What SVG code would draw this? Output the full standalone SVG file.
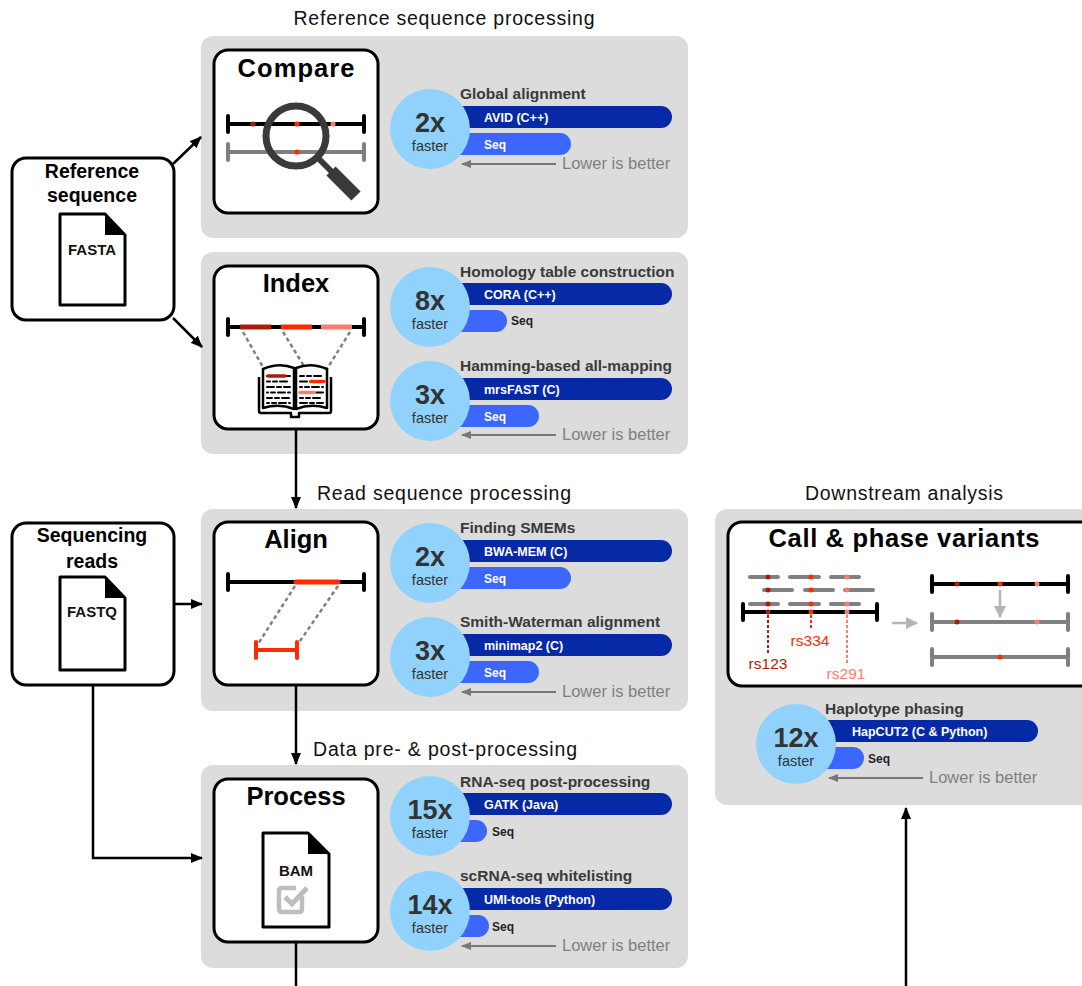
<svg xmlns="http://www.w3.org/2000/svg" width="1082" height="986" viewBox="0 0 1082 986">
  <defs>
    <style>
      text{font-family:"Liberation Sans",Arial,Helvetica,sans-serif}
      .panel{fill:#dcdcdc}
      .node{fill:#fff;stroke:#000;stroke-width:3}
      .sec{font-size:19.5px;fill:#111;text-anchor:middle}
      .ttl{font-size:25.5px;font-weight:bold;fill:#000;text-anchor:middle}
      .src{font-size:19.5px;font-weight:bold;fill:#000;text-anchor:middle}
      .doc{fill:#fff;stroke:#000;stroke-width:3;stroke-linejoin:round}
      .fold{fill:#000}
      .doclbl{font-size:15px;font-weight:bold;fill:#111;text-anchor:middle}
      .circ{fill:#90d2fb}
      .fac{font-size:27px;font-weight:bold;fill:#333;text-anchor:middle}
      .fst{font-size:14.5px;fill:#333;text-anchor:middle}
      .btl{font-size:15.5px;font-weight:bold;fill:#3a3a3a}
      .tool{fill:#0629a6}
      .seq{fill:#3d66fc}
      .blbl{font-size:12.5px;font-weight:bold;fill:#fff}
      .slbl{font-size:12px;font-weight:bold;fill:#fff}
      .olbl{font-size:12px;font-weight:bold;fill:#222}
      .low{font-size:16.5px;fill:#808080}
      .lowarr{stroke:#777;stroke-width:2;marker-end:url(#ag)}
      .conn{fill:none;stroke:#000;stroke-width:2.5}
      .blk{stroke:#000;stroke-width:4;stroke-linecap:round}
      .gry{stroke:#808080;stroke-width:4;stroke-linecap:round}
      .dash{stroke:#808080;stroke-width:2.5;stroke-dasharray:4 3;fill:none}
      .rd1{fill:#b01a0a}
      .rd2{fill:#ff2a00}
      .rd3{fill:#ff7a70}
      .bline{stroke:#000;stroke-width:2;stroke-linecap:round;stroke-dasharray:7 3 4 3}
    </style>
    <marker id="ah" viewBox="0 0 12 10" refX="11" refY="5" markerWidth="12" markerHeight="10" markerUnits="userSpaceOnUse" orient="auto">
      <path d="M0,0 L12,5 L0,10 Z" fill="#000"/>
    </marker>
    <marker id="ag" viewBox="0 0 10 8" refX="9" refY="4" markerWidth="10" markerHeight="8" markerUnits="userSpaceOnUse" orient="auto">
      <path d="M0,0 L10,4 L0,8 Z" fill="#777"/>
    </marker>
    <marker id="al" viewBox="0 0 12 12" refX="11" refY="6" markerWidth="12" markerHeight="12" markerUnits="userSpaceOnUse" orient="auto">
      <path d="M0,0 L12,6 L0,12 Z" fill="#b5b5b5"/>
    </marker>
  </defs>

  <!-- section backgrounds -->
  <g id="panels">
    <rect class="panel" x="201" y="36" width="487" height="202" rx="12"/>
    <rect class="panel" x="201" y="252" width="487" height="202" rx="12"/>
    <rect class="panel" x="201" y="509" width="487" height="202" rx="12"/>
    <rect class="panel" x="201" y="765" width="487" height="203" rx="12"/>
    <rect class="panel" x="715" y="509" width="380" height="296" rx="12"/>
  </g>

  <!-- section headings -->
  <g id="headings">
    <text class="sec" x="444" y="25" textLength="301" lengthAdjust="spacing">Reference sequence processing</text>
    <text class="sec" x="444" y="500" textLength="254" lengthAdjust="spacing">Read sequence processing</text>
    <text class="sec" x="445" y="756" textLength="264" lengthAdjust="spacing">Data pre- &amp; post-processing</text>
    <text class="sec" x="904" y="500" textLength="198" lengthAdjust="spacing">Downstream analysis</text>
  </g>

  <!-- connectors -->
  <g id="connectors">
    <line class="conn" x1="173" y1="164" x2="201" y2="137" marker-end="url(#ah)"/>
    <line class="conn" x1="173" y1="318" x2="202" y2="347" marker-end="url(#ah)"/>
    <line class="conn" x1="175" y1="604" x2="202" y2="604" marker-end="url(#ah)"/>
    <path class="conn" d="M93,685 V858 H202" marker-end="url(#ah)"/>
    <path class="conn" d="M296,429 V508" marker-end="url(#ah)"/>
    <path class="conn" d="M296,685 V764" marker-end="url(#ah)"/>
    <path class="conn" d="M296,942 V986"/>
    <path class="conn" d="M906,986 V808" marker-end="url(#ah)"/>
  </g>

  <!-- input: reference sequence -->
  <g id="reference-sequence">
    <rect class="node" x="12" y="158" width="162" height="162" rx="14"/>
    <text class="src" x="92" y="178">Reference</text>
    <text class="src" x="92" y="202">sequence</text>
    <path class="doc" d="M60,214 H105 L125,235 V305 H60 Z"/>
    <path class="fold" d="M105,214 V235 H125 Z"/>
    <text class="doclbl" x="92" y="255">FASTA</text>
  </g>

  <!-- input: sequencing reads -->
  <g id="sequencing-reads">
    <rect class="node" x="12" y="523" width="162" height="162" rx="14"/>
    <text class="src" x="92" y="542">Sequencing</text>
    <text class="src" x="92" y="568">reads</text>
    <path class="doc" d="M60,577 H105 L125,598 V670 H60 Z"/>
    <path class="fold" d="M105,577 V598 H125 Z"/>
    <text class="doclbl" x="92" y="617">FASTQ</text>
  </g>

  <!-- Compare -->
  <g id="compare">
    <rect class="node" x="214" y="50" width="164" height="163" rx="14"/>
    <text class="ttl" x="296" y="77" textLength="117" lengthAdjust="spacing">Compare</text>
    <line class="blk" x1="228" y1="124" x2="364" y2="124"/>
    <line class="blk" x1="228" y1="116" x2="228" y2="132"/>
    <line class="blk" x1="364" y1="116" x2="364" y2="132"/>
    <line class="gry" x1="228" y1="152" x2="364" y2="152"/>
    <line class="gry" x1="228" y1="144" x2="228" y2="160"/>
    <line class="gry" x1="364" y1="144" x2="364" y2="160"/>
    <circle class="rd1" cx="253" cy="124" r="2.6"/>
    <circle class="rd2" cx="297" cy="124" r="2.6"/>
    <circle class="rd3" cx="333" cy="124" r="2.6"/>
    <circle class="rd2" cx="297" cy="152" r="2.6"/>
    <circle cx="296" cy="136" r="30" fill="none" stroke="#3a3a3a" stroke-width="7"/>
    <line x1="317" y1="157" x2="332" y2="172" stroke="#3a3a3a" stroke-width="6"/>
    <line x1="331" y1="171" x2="356" y2="196" stroke="#3a3a3a" stroke-width="13"/>
  </g>

  <g id="bench-global-alignment">
    <text class="btl" x="460" y="99">Global alignment</text>
    <rect class="tool" x="440" y="106" width="232" height="22" rx="11"/>
    <rect class="seq" x="440" y="133" width="131" height="22" rx="11"/>
    <circle class="circ" cx="430" cy="129" r="40"/>
    <text class="fac" x="430" y="132">2x</text>
    <text class="fst" x="430" y="151">faster</text>
    <text class="blbl" x="484" y="122">AVID (C++)</text>
    <text class="slbl" x="484" y="149">Seq</text>
    <line class="lowarr" x1="556" y1="164" x2="462" y2="164"/>
    <text class="low" x="562" y="169">Lower is better</text>
  </g>

  <!-- Index -->
  <g id="index">
    <rect class="node" x="214" y="266" width="164" height="163" rx="14"/>
    <text class="ttl" x="296" y="292">Index</text>
    <line class="blk" x1="228" y1="327" x2="364" y2="327"/>
    <line class="blk" x1="228" y1="319" x2="228" y2="335"/>
    <line class="blk" x1="364" y1="319" x2="364" y2="335"/>
    <line x1="240" y1="327" x2="271" y2="327" stroke="#b01a0a" stroke-width="5"/>
    <line x1="281" y1="327" x2="312" y2="327" stroke="#ff2a00" stroke-width="5"/>
    <line x1="321" y1="327" x2="352" y2="327" stroke="#ff7a70" stroke-width="5"/>
    <line class="dash" x1="243" y1="332" x2="264" y2="369"/>
    <line class="dash" x1="283" y1="332" x2="312" y2="379"/>
    <line class="dash" x1="350" y1="332" x2="315" y2="388"/>
    <!-- open book -->
    <path d="M259,377 V411 Q259,413 261,413 H291 V417 H299 V413 H329 Q331,413 331,411 V377" fill="#fff" stroke="#000" stroke-width="2.5" stroke-linejoin="round"/>
    <path d="M263,369 Q279,362 294,368 V409 Q279,403 263,408 Z" fill="#fff" stroke="#000" stroke-width="2.5" stroke-linejoin="round"/>
    <path d="M296,368 Q311,362 327,369 V408 Q311,403 296,409 Z" fill="#fff" stroke="#000" stroke-width="2.5" stroke-linejoin="round"/>
    <line class="bline" x1="267" y1="376" x2="290" y2="376"/>
    <line class="bline" x1="267" y1="381.5" x2="290" y2="381.5" stroke-dashoffset="4"/>
    <line class="bline" x1="267" y1="387" x2="290" y2="387"/>
    <line class="bline" x1="267" y1="392.5" x2="290" y2="392.5" stroke-dashoffset="6"/>
    <line class="bline" x1="267" y1="398" x2="290" y2="398" stroke-dashoffset="2"/>
    <line class="bline" x1="267" y1="403" x2="290" y2="403" stroke-dashoffset="5"/>
    <line class="bline" x1="300" y1="376" x2="323" y2="376" stroke-dashoffset="3"/>
    <line class="bline" x1="300" y1="381.5" x2="323" y2="381.5"/>
    <line class="bline" x1="300" y1="387" x2="323" y2="387" stroke-dashoffset="5"/>
    <line class="bline" x1="300" y1="392.5" x2="323" y2="392.5" stroke-dashoffset="1"/>
    <line class="bline" x1="300" y1="398" x2="323" y2="398" stroke-dashoffset="4"/>
    <line class="bline" x1="300" y1="403" x2="323" y2="403"/>
    <line x1="268" y1="376" x2="285" y2="376" stroke="#b01a0a" stroke-width="3.5" stroke-linecap="round"/>
    <line x1="311" y1="381.5" x2="324" y2="381.5" stroke="#ff2a00" stroke-width="3.5" stroke-linecap="round"/>
    <line x1="300" y1="392.5" x2="314" y2="392.5" stroke="#ff7a70" stroke-width="3.5" stroke-linecap="round"/>
  </g>

  <g id="bench-homology-table">
    <text class="btl" x="460" y="277">Homology table construction</text>
    <rect class="tool" x="440" y="283" width="232" height="22" rx="11"/>
    <rect class="seq" x="440" y="310" width="67" height="22" rx="11"/>
    <circle class="circ" cx="430" cy="307" r="40"/>
    <text class="fac" x="430" y="310">8x</text>
    <text class="fst" x="430" y="329">faster</text>
    <text class="blbl" x="484" y="299">CORA (C++)</text>
    <text class="olbl" x="511" y="325">Seq</text>
  </g>

  <g id="bench-hamming-mapping">
    <text class="btl" x="460" y="371">Hamming-based all-mapping</text>
    <rect class="tool" x="440" y="378" width="232" height="22" rx="11"/>
    <rect class="seq" x="440" y="405" width="99" height="22" rx="11"/>
    <circle class="circ" cx="430" cy="401" r="40"/>
    <text class="fac" x="430" y="404">3x</text>
    <text class="fst" x="430" y="423">faster</text>
    <text class="blbl" x="484" y="394">mrsFAST (C)</text>
    <text class="slbl" x="484" y="421">Seq</text>
    <line class="lowarr" x1="556" y1="435" x2="462" y2="435"/>
    <text class="low" x="562" y="440">Lower is better</text>
  </g>

  <!-- Align -->
  <g id="align">
    <rect class="node" x="214" y="522" width="164" height="163" rx="14"/>
    <text class="ttl" x="296" y="548">Align</text>
    <line class="blk" x1="228" y1="582" x2="364" y2="582"/>
    <line class="blk" x1="228" y1="574" x2="228" y2="590"/>
    <line class="blk" x1="364" y1="574" x2="364" y2="590"/>
    <line x1="296" y1="582" x2="338" y2="582" stroke="#ff2a00" stroke-width="5" stroke-linecap="round"/>
    <line class="dash" x1="295" y1="586" x2="258" y2="644"/>
    <line class="dash" x1="338" y1="586" x2="298" y2="644"/>
    <line x1="256" y1="650" x2="297" y2="650" stroke="#ff2a00" stroke-width="4"/>
    <line x1="256" y1="642" x2="256" y2="658" stroke="#ff2a00" stroke-width="4" stroke-linecap="round"/>
    <line x1="297" y1="642" x2="297" y2="658" stroke="#ff2a00" stroke-width="4" stroke-linecap="round"/>
  </g>

  <g id="bench-smems">
    <text class="btl" x="460" y="533">Finding SMEMs</text>
    <rect class="tool" x="440" y="540" width="232" height="22" rx="11"/>
    <rect class="seq" x="440" y="567" width="131" height="22" rx="11"/>
    <circle class="circ" cx="430" cy="563" r="40"/>
    <text class="fac" x="430" y="566">2x</text>
    <text class="fst" x="430" y="585">faster</text>
    <text class="blbl" x="484" y="556">BWA-MEM (C)</text>
    <text class="slbl" x="484" y="583">Seq</text>
  </g>

  <g id="bench-smith-waterman">
    <text class="btl" x="460" y="627">Smith-Waterman alignment</text>
    <rect class="tool" x="440" y="634" width="232" height="22" rx="11"/>
    <rect class="seq" x="440" y="661" width="99" height="22" rx="11"/>
    <circle class="circ" cx="430" cy="657" r="40"/>
    <text class="fac" x="430" y="660">3x</text>
    <text class="fst" x="430" y="679">faster</text>
    <text class="blbl" x="484" y="650">minimap2 (C)</text>
    <text class="slbl" x="484" y="677">Seq</text>
    <line class="lowarr" x1="556" y1="692" x2="462" y2="692"/>
    <text class="low" x="562" y="697">Lower is better</text>
  </g>

  <!-- Process -->
  <g id="process">
    <rect class="node" x="214" y="779" width="164" height="163" rx="14"/>
    <text class="ttl" x="296" y="805">Process</text>
    <path class="doc" d="M263,833 H308 L329,854 V927 H263 Z"/>
    <path class="fold" d="M308,833 V854 H329 Z"/>
    <text class="doclbl" x="296" y="876">BAM</text>
    <path d="M302,896 V909 Q302,912 299,912 H282 Q279,912 279,909 V891 Q279,888 282,888 H296" fill="none" stroke="#bdbdbd" stroke-width="4.5"/>
    <polyline points="285,897 292,904 307,888" fill="none" stroke="#bdbdbd" stroke-width="5"/>
  </g>

  <g id="bench-rnaseq">
    <text class="btl" x="460" y="787">RNA-seq post-processing</text>
    <rect class="tool" x="440" y="793" width="232" height="22" rx="11"/>
    <rect class="seq" x="440" y="820" width="47" height="22" rx="11"/>
    <circle class="circ" cx="430" cy="816" r="40"/>
    <text class="fac" x="430" y="819">15x</text>
    <text class="fst" x="430" y="838">faster</text>
    <text class="blbl" x="484" y="809">GATK (Java)</text>
    <text class="olbl" x="492" y="836">Seq</text>
  </g>

  <g id="bench-whitelisting">
    <text class="btl" x="460" y="881">scRNA-seq whitelisting</text>
    <rect class="tool" x="440" y="888" width="232" height="22" rx="11"/>
    <rect class="seq" x="440" y="915" width="49" height="22" rx="11"/>
    <circle class="circ" cx="430" cy="911" r="40"/>
    <text class="fac" x="430" y="914">14x</text>
    <text class="fst" x="430" y="933">faster</text>
    <text class="blbl" x="484" y="904">UMI-tools (Python)</text>
    <text class="olbl" x="492" y="931">Seq</text>
    <line class="lowarr" x1="556" y1="946" x2="462" y2="946"/>
    <text class="low" x="562" y="951">Lower is better</text>
  </g>

  <!-- Call & phase variants -->
  <g id="call-phase-variants">
    <rect class="node" x="728" y="522" width="370" height="164" rx="14"/>
    <text class="ttl" x="904" y="547" textLength="271" lengthAdjust="spacing">Call &amp; phase variants</text>
    <!-- reads -->
    <g class="gry" stroke-width="4">
      <line x1="750" y1="577" x2="778" y2="577"/>
      <line x1="790" y1="577" x2="819" y2="577"/>
      <line x1="831" y1="577" x2="859" y2="577"/>
      <line x1="764" y1="590" x2="792" y2="590"/>
      <line x1="805" y1="590" x2="833" y2="590"/>
      <line x1="845" y1="590" x2="873" y2="590"/>
      <line x1="750" y1="604" x2="778" y2="604"/>
      <line x1="790" y1="604" x2="819" y2="604"/>
      <line x1="831" y1="604" x2="859" y2="604"/>
    </g>
    <circle class="rd1" cx="768" cy="577" r="2.5"/>
    <circle class="rd1" cx="768" cy="590" r="2.5"/>
    <circle class="rd1" cx="768" cy="604" r="2.5"/>
    <circle class="rd2" cx="811" cy="577" r="2.5"/>
    <circle class="rd2" cx="811" cy="590" r="2.5"/>
    <circle class="rd2" cx="811" cy="604" r="2.5"/>
    <circle class="rd3" cx="847" cy="577" r="2.5"/>
    <circle class="rd3" cx="847" cy="590" r="2.5"/>
    <circle class="rd3" cx="847" cy="604" r="2.5"/>
    <!-- reference -->
    <line class="blk" x1="743" y1="612" x2="877" y2="612"/>
    <line class="blk" x1="743" y1="604" x2="743" y2="620"/>
    <line class="blk" x1="877" y1="604" x2="877" y2="620"/>
    <circle class="rd1" cx="768" cy="612" r="2.5"/>
    <circle class="rd2" cx="811" cy="612" r="2.5"/>
    <circle class="rd3" cx="847" cy="612" r="2.5"/>
    <line x1="768" y1="615" x2="768" y2="653" stroke="#b01a0a" stroke-width="2" stroke-dasharray="3 2"/>
    <line x1="811" y1="615" x2="811" y2="630" stroke="#ff2a00" stroke-width="2" stroke-dasharray="3 2"/>
    <line x1="847" y1="615" x2="847" y2="665" stroke="#ff7a70" stroke-width="2" stroke-dasharray="3 2"/>
    <text x="768" y="669" font-size="15.5" fill="#b01a0a" text-anchor="middle">rs123</text>
    <text x="810" y="646" font-size="15.5" fill="#ff2a00" text-anchor="middle">rs334</text>
    <text x="846" y="679" font-size="15.5" fill="#ff7a70" text-anchor="middle">rs291</text>
    <line x1="892" y1="623" x2="917" y2="623" stroke="#b5b5b5" stroke-width="2.5" marker-end="url(#al)"/>
    <!-- haplotypes -->
    <line class="blk" x1="932" y1="584" x2="1068" y2="584"/>
    <line class="blk" x1="932" y1="576" x2="932" y2="592"/>
    <line class="blk" x1="1068" y1="576" x2="1068" y2="592"/>
    <circle class="rd1" cx="957" cy="584" r="2.5"/>
    <circle class="rd2" cx="1000" cy="584" r="2.5"/>
    <circle class="rd3" cx="1037" cy="584" r="2.5"/>
    <line x1="1000" y1="590" x2="1000" y2="617" stroke="#b5b5b5" stroke-width="2.5" marker-end="url(#al)"/>
    <line class="gry" x1="932" y1="622" x2="1068" y2="622"/>
    <line class="gry" x1="932" y1="614" x2="932" y2="630"/>
    <line class="gry" x1="1068" y1="614" x2="1068" y2="630"/>
    <circle class="rd1" cx="957" cy="622" r="2.5"/>
    <circle class="rd3" cx="1037" cy="622" r="2.5"/>
    <line class="gry" x1="932" y1="657" x2="1068" y2="657"/>
    <line class="gry" x1="932" y1="649" x2="932" y2="665"/>
    <line class="gry" x1="1068" y1="649" x2="1068" y2="665"/>
    <circle class="rd2" cx="1000" cy="657" r="2.5"/>
  </g>

  <g id="bench-haplotype-phasing">
    <text class="btl" x="825" y="714">Haplotype phasing</text>
    <rect class="tool" x="806" y="720" width="232" height="22" rx="11"/>
    <rect class="seq" x="806" y="747" width="58" height="22" rx="11"/>
    <circle class="circ" cx="796" cy="744" r="40"/>
    <text class="fac" x="796" y="747">12x</text>
    <text class="fst" x="796" y="766">faster</text>
    <text class="blbl" x="852" y="736">HapCUT2 (C &amp; Python)</text>
    <text class="olbl" x="868" y="763">Seq</text>
    <line class="lowarr" x1="923" y1="778" x2="829" y2="778"/>
    <text class="low" x="929" y="783">Lower is better</text>
  </g>
</svg>
